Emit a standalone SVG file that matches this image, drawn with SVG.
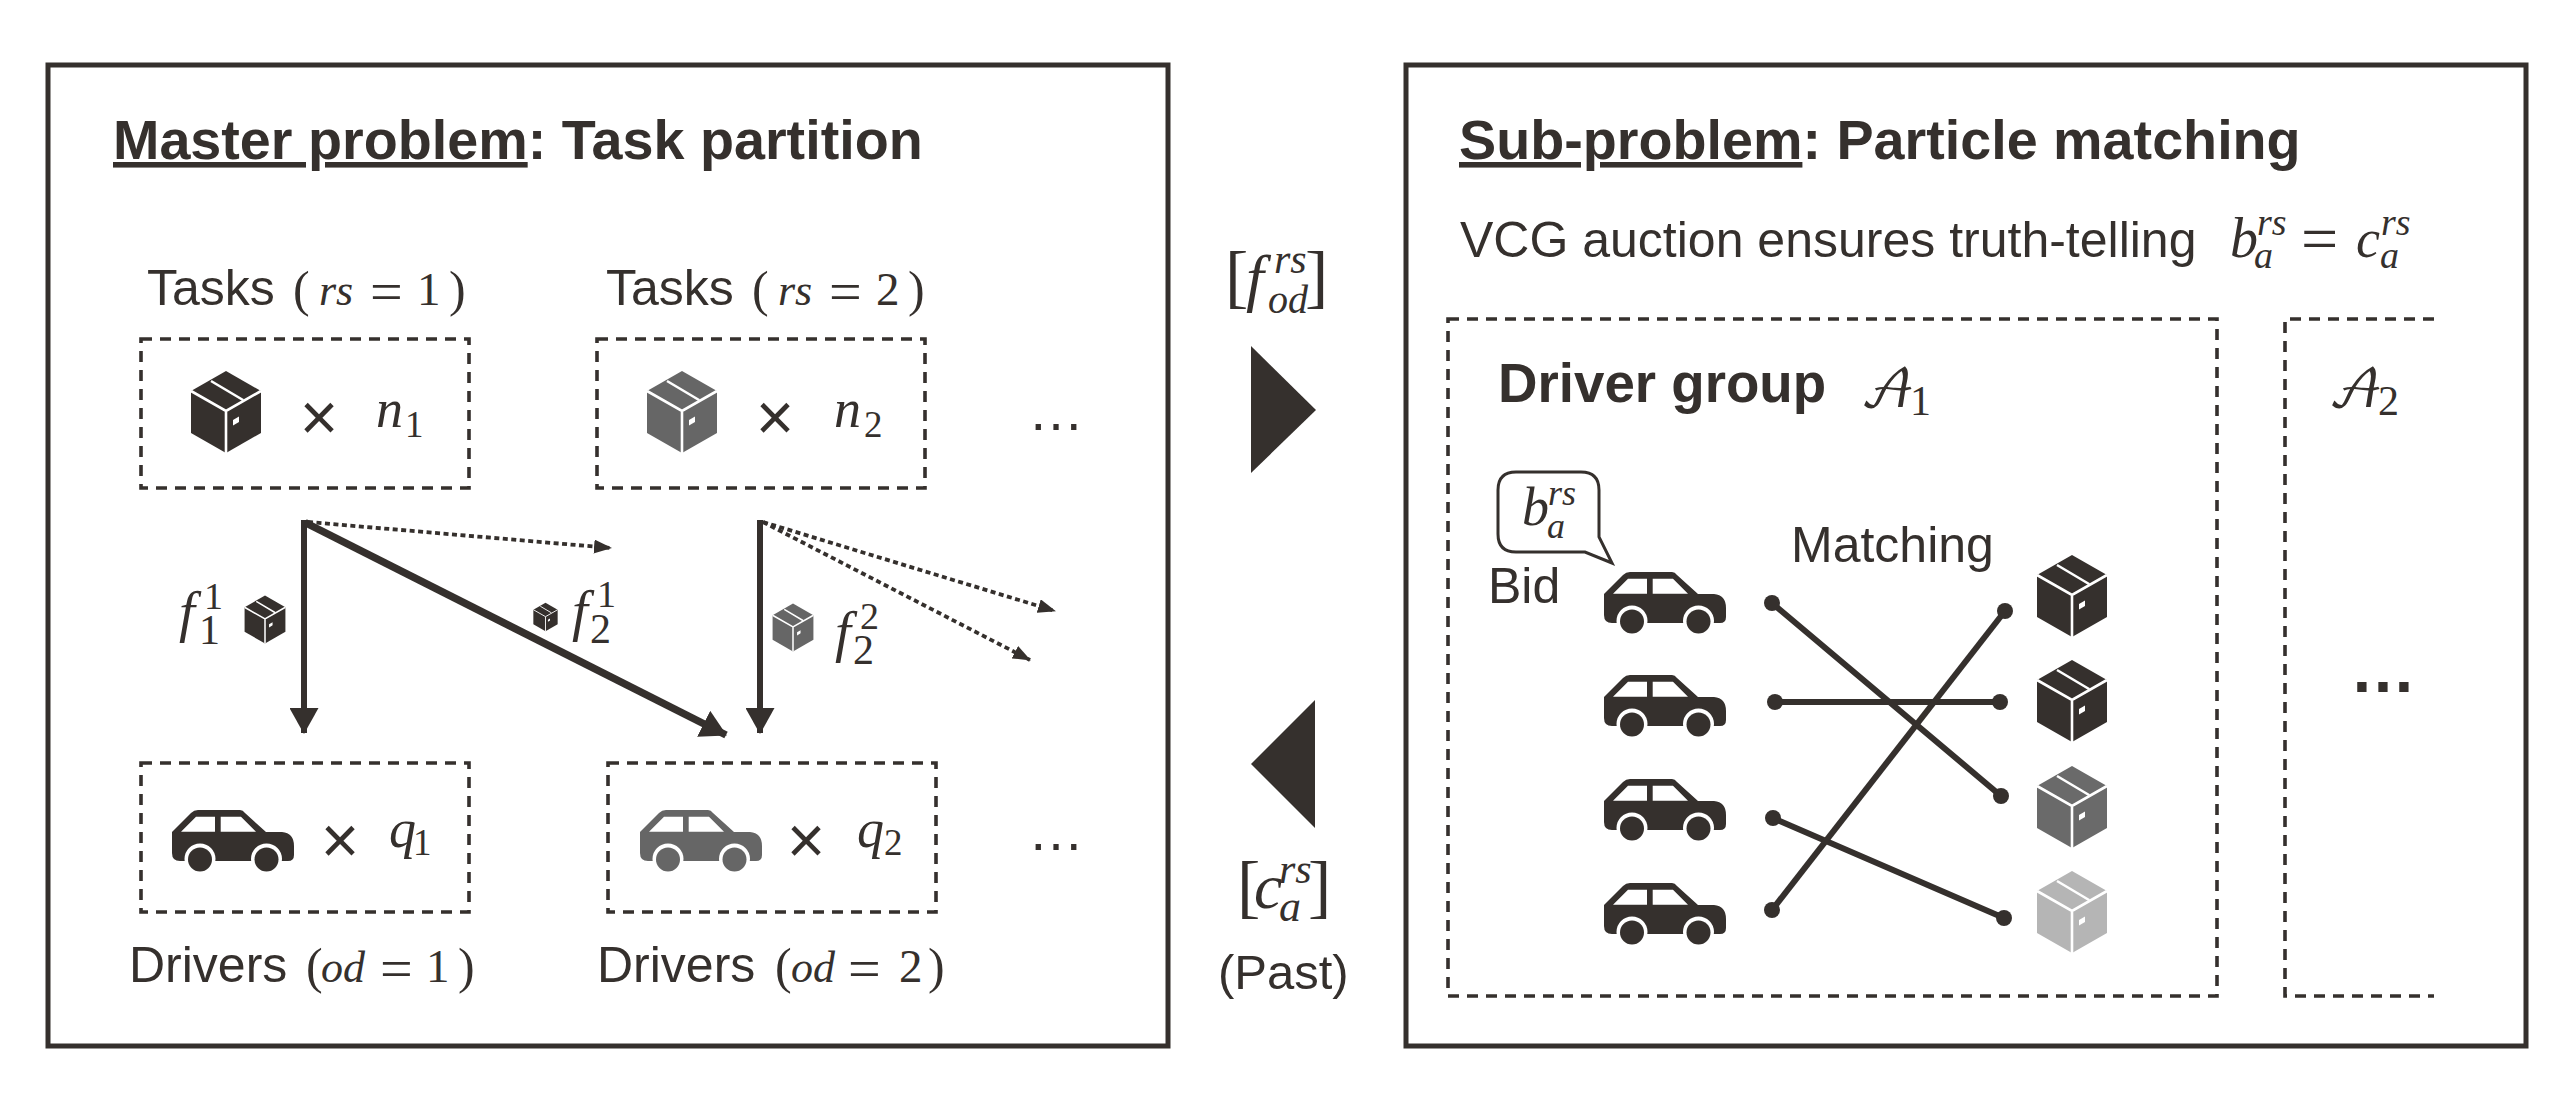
<svg xmlns="http://www.w3.org/2000/svg" width="2571" height="1111" viewBox="0 0 2571 1111">
<style>
text{fill:#35302d;font-family:"Liberation Sans",Arial,sans-serif}
.title{font-size:55.700px;font-weight:700}
.t{font-size:50px}
.b{font-size:54.700px;font-weight:700}
.m,.fn,.r,.si,.p,.e,.d,.s,.br{font-family:"Liberation Serif","DejaVu Serif",serif}
.m,.fn,.r,.si{font-style:italic}
.m{font-size:54px}
.fn{font-size:57px}
.r{font-size:44px}
.si{font-size:38px}
.p{font-size:50px}
.e{font-size:58px}
.d{font-size:47px}
.s{font-size:37px}
.br{font-size:70px}
.cal{font-family:"DejaVu Math TeX Gyre","Liberation Serif",serif;font-size:52px}
.x{font-size:66px;text-anchor:middle}
.frame{fill:#fff;stroke:#35302d;stroke-width:5}
.dash{fill:none;stroke:#35302d;stroke-width:3.600;stroke-dasharray:11 8}
.arr{stroke:#35302d;stroke-width:6;fill:none}
.thick{stroke:#35302d;stroke-width:7.500;fill:none}
.dot{stroke:#35302d;stroke-width:3.800;stroke-dasharray:5 3.500;fill:none}
.lnk{stroke:#35302d;stroke-width:6;fill:none}
.end,.tri{fill:#35302d}
.bubble{fill:#fff;stroke:#35302d;stroke-width:3}
</style>
<defs>
<marker id="hd" viewBox="0 0 26 29" refX="25" refY="14.500" markerUnits="userSpaceOnUse" markerWidth="26" markerHeight="29" orient="auto"><path d="M0 0L26 14.500L0 29Z" fill="#35302d"/></marker>
<marker id="hs" viewBox="0 0 18 14" refX="17" refY="7" markerUnits="userSpaceOnUse" markerWidth="18" markerHeight="14" orient="auto"><path d="M0 0L18 7L0 14Z" fill="#35302d"/></marker>
<symbol id="box" overflow="visible" viewBox="-36 -42 72 84" width="72" height="84">
<path d="M0-41L35-21V21L0 41L-35 21V-21Z"/>
<path d="M-35-21L0-1L35-21M0-1V41M-15-31L17-12" stroke="#fff" stroke-width="2.600" fill="none"/>
<path d="M7 8L13 4.500V10L7 13.500Z" fill="#fff"/>
</symbol>
<symbol id="car" overflow="visible" viewBox="0 0 122 62" width="122" height="62">
<path d="M0 22L19 3Q22 0 26 0H68Q71 0 73 3L94 22H110Q122 23 122 36V45Q122 51 116 51H8Q0 51 0 43Z"/>
<circle cx="28" cy="49" r="15.500" fill="#fff"/><circle cx="94.500" cy="49" r="15.500" fill="#fff"/>
<rect x="0" y="51" width="122" height="11" fill="#fff"/>
<circle cx="28" cy="49.500" r="12"/><circle cx="94.500" cy="49.500" r="12"/>
<path d="M9 21.700L24 6.700H43V21.700ZM48.700 6.700H69L84 21.700H48.700Z" fill="#fff"/>
</symbol>
</defs>

<g id="master-frame"><rect class="frame" x="48" y="65" width="1120" height="981"/>
<text class="title" x="113" y="159"><tspan text-decoration="underline">Master problem</tspan>: Task partition</text></g>

<g id="sub-frame"><rect class="frame" x="1406" y="65" width="1120" height="981"/>
<text class="title" x="1459" y="159"><tspan text-decoration="underline">Sub-problem</tspan>: Particle matching</text>
<text class="t" x="1460" y="257">VCG auction ensures truth-telling</text>
<text class="m" x="2230" y="257" style="font-size:56px">b</text><text class="si" x="2257" y="235">rs</text><text class="si" x="2254" y="268">a</text>
<text class="e" x="2301" y="261" style="font-size:66px">=</text>
<text class="m" x="2356" y="257">c</text><text class="si" x="2381" y="235">rs</text><text class="si" x="2380" y="268">a</text></g>

<g id="tasks-1"><text class="t" x="147" y="305">Tasks</text><text class="p" x="293" y="306">(</text><text class="r" x="319" y="305">rs</text><text class="e" x="370" y="311">=</text><text class="d" x="417" y="305">1</text><text class="p" x="449" y="306">)</text>
<rect class="dash" x="141" y="339" width="328" height="149"/>
<use href="#box" x="190" y="370" fill="#35302d"/><text class="x" x="319" y="440">×</text>
<text class="m" x="376" y="427">n</text><text class="s" x="405" y="437">1</text></g>

<g id="tasks-2"><text class="t" x="606" y="305">Tasks</text><text class="p" x="752" y="306">(</text><text class="r" x="778" y="305">rs</text><text class="e" x="829" y="311">=</text><text class="d" x="876" y="305">2</text><text class="p" x="908" y="306">)</text>
<rect class="dash" x="597" y="339" width="328" height="149"/>
<use href="#box" x="646" y="370" fill="#666"/><text class="x" x="775" y="440">×</text>
<text class="m" x="834" y="427">n</text><text class="s" x="864" y="437">2</text>
<text class="t" x="1028" y="430" style="font-size:56px">…</text></g>

<g id="drivers-1"><rect class="dash" x="141" y="763" width="328" height="149"/>
<use href="#car" x="172" y="810" fill="#35302d"/><text class="x" x="340" y="863">×</text>
<text class="m" x="389" y="847">q</text><text class="s" x="413" y="855">1</text>
<text class="t" x="129" y="982">Drivers</text><text class="p" x="306" y="983">(</text><text class="r" x="321" y="982">od</text><text class="e" x="380" y="988">=</text><text class="d" x="426" y="982">1</text><text class="p" x="458" y="983">)</text></g>

<g id="drivers-2"><rect class="dash" x="608" y="763" width="328" height="149"/>
<use href="#car" x="640" y="810" fill="#666"/><text class="x" x="806" y="863">×</text>
<text class="m" x="857" y="847">q</text><text class="s" x="884" y="855">2</text>
<text class="t" x="597" y="982">Drivers</text><text class="p" x="775" y="983">(</text><text class="r" x="791" y="982">od</text><text class="e" x="848" y="988">=</text><text class="d" x="899" y="982">2</text><text class="p" x="928" y="983">)</text>
<text class="t" x="1028" y="850" style="font-size:56px">…</text></g>

<g id="connectors">
<path class="arr" d="M304 520V733" marker-end="url(#hd)"/>
<path class="thick" d="M305 522.500L726 735" marker-end="url(#hd)"/>
<path class="arr" d="M760 520V733" marker-end="url(#hd)"/>
<path class="dot" d="M308 522L611 548" marker-end="url(#hs)"/>
<path class="dot" d="M763 522L1055 611" marker-end="url(#hs)"/>
<path class="dot" d="M763 522L1030 660" marker-end="url(#hs)"/>
<path class="lnk" d="M1772 603L2001 796"/>
<path class="lnk" d="M1775 702H2000"/>
<path class="lnk" d="M1773 818L2004 918"/>
<path class="lnk" d="M1772 910L2005 611"/>
<g class="end"><circle cx="1772" cy="603" r="8"/><circle cx="2001" cy="796" r="8"/><circle cx="1775" cy="702" r="8"/><circle cx="2000" cy="702" r="8"/><circle cx="1773" cy="818" r="8"/><circle cx="2004" cy="918" r="8"/><circle cx="1772" cy="910" r="8"/><circle cx="2005" cy="611" r="8"/></g>
</g>

<g id="flow-labels">
<text class="fn" x="179" y="631">f</text><text class="s" x="204" y="609" style="font-size:38px">1</text><text class="s" x="199" y="644" style="font-size:42px">1</text>
<use href="#box" x="244" y="595" width="42" height="49" fill="#35302d"/>
<use href="#box" x="533" y="602" width="25" height="30" fill="#35302d"/>
<text class="fn" x="572" y="630">f</text><text class="s" x="597" y="607" style="font-size:38px">1</text><text class="s" x="590" y="643" style="font-size:42px">2</text>
<use href="#box" x="772" y="603" width="42" height="49" fill="#666"/>
<text class="fn" x="835" y="651">f</text><text class="s" x="860" y="629" style="font-size:38px">2</text><text class="s" x="853" y="664" style="font-size:42px">2</text>
</g>

<g id="forward"><text class="br" x="1225" y="300">[</text><text class="fn" x="1246" y="299" style="font-size:64px">f</text><text class="r" x="1274" y="273" style="font-size:42px">rs</text><text class="r" x="1268" y="313" style="font-size:40px">od</text><text class="br" x="1305" y="300">]</text>
<path class="tri" d="M1251 346V473L1316 410Z"/></g>

<g id="backward"><path class="tri" d="M1315 700L1251 764L1315 828Z"/>
<text class="br" x="1237" y="910">[</text><text class="m" x="1254" y="908" style="font-size:64px">c</text><text class="r" x="1279" y="883" style="font-size:42px">rs</text><text class="r" x="1279" y="921">a</text><text class="br" x="1308" y="910">]</text>
<text class="t" x="1218" y="989" style="font-size:49px">(Past)</text></g>

<g id="driver-group-1"><rect class="dash" x="1448" y="319" width="769" height="677"/>
<text class="b" x="1498" y="402">Driver group</text>
<text class="cal" x="1860" y="407">𝒜</text><text class="s" x="1910" y="415" style="font-size:42px">1</text>
<path class="bubble" d="M1516 472H1581Q1599 472 1599 490V537L1612 563L1585 552H1516Q1498 552 1498 534V490Q1498 472 1516 472Z"/>
<text class="m" x="1522" y="525">b</text><text class="si" x="1548" y="505" style="font-size:36px">rs</text><text class="si" x="1547" y="538" style="font-size:36px">a</text>
<text class="t" x="1488" y="603">Bid</text>
<text class="t" x="1791" y="562">Matching</text>
<use href="#car" x="1604" y="572" fill="#35302d"/><use href="#car" x="1604" y="675" fill="#35302d"/><use href="#car" x="1604" y="779" fill="#35302d"/><use href="#car" x="1604" y="883" fill="#35302d"/>
<use href="#box" x="2036" y="554" fill="#35302d"/><use href="#box" x="2036" y="659" fill="#35302d"/><use href="#box" x="2036" y="765" fill="#6a6a6a"/><use href="#box" x="2036" y="870" fill="#b5b5b5"/></g>

<g id="driver-group-2"><path class="dash" d="M2434 319H2285V996H2434"/>
<text class="cal" x="2328" y="407">𝒜</text><text class="s" x="2378" y="415" style="font-size:42px">2</text>
<text class="t" x="2350" y="692" style="font-size:66px;font-weight:700">…</text></g>
</svg>
